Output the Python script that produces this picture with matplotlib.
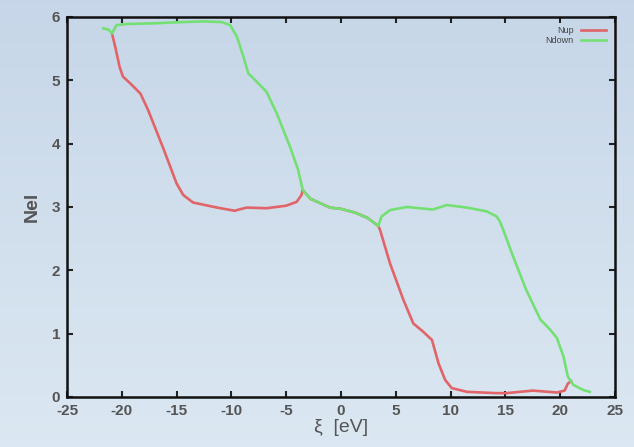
import numpy as np
import matplotlib
matplotlib.use('Agg')
import matplotlib.pyplot as plt

plt.rcParams['font.family'] = ['Liberation Sans', 'DejaVu Sans']
plt.rcParams['axes.unicode_minus'] = False

# Nup (red) path
nup_x = [-20.9, -20.6, -20.2, -19.9, -19.1, -18.3, -17.6, -16.5, -16.2, -15.0, -14.4, -13.5,
         -11.3, -9.7, -9.3, -8.6, -6.8, -5.0, -4.05, -3.6, -3.5,
         -2.8, -1.0, 0.0, 1.3, 2.4, 3.4,
         3.56, 4.47, 5.7, 6.6, 7.5, 8.3, 8.9, 9.5, 10.1, 11.5, 14.2, 15.1, 17.5,
         19.7, 20.4, 20.7, 21.0]
nup_y = [5.74, 5.53, 5.21, 5.06, 4.93, 4.79, 4.53, 4.05, 3.92, 3.37, 3.19, 3.07,
         2.99, 2.94, 2.96, 2.99, 2.98, 3.02, 3.08, 3.19, 3.27,
         3.13, 2.99, 2.97, 2.91, 2.83, 2.70,
         2.64, 2.11, 1.53, 1.16, 1.03, 0.90, 0.53, 0.27, 0.14, 0.08, 0.06, 0.06, 0.10,
         0.07, 0.10, 0.21, 0.25]

# Ndown (green) path
ndown_x = [-21.7, -21.2, -20.9, -20.5, -19.5, -17.0, -14.5, -12.5, -10.9, -10.1, -9.5,
           -8.9, -8.46, -7.7, -6.8, -5.87, -4.65, -3.9, -3.5,
           -2.8, -1.0, 0.0, 1.3, 2.4, 3.4,
           3.7, 4.47, 6.0, 8.4, 9.65, 11.5, 13.3, 14.2, 14.5, 14.8, 15.7, 16.9, 18.2,
           19.1, 19.7, 20.3, 20.7, 21.2, 22.1, 22.7]
ndown_y = [5.82, 5.80, 5.74, 5.87, 5.89, 5.90, 5.92, 5.93, 5.92, 5.87, 5.69,
           5.37, 5.11, 4.98, 4.82, 4.48, 3.95, 3.58, 3.27,
           3.13, 2.99, 2.97, 2.91, 2.83, 2.70,
           2.85, 2.95, 3.00, 2.96, 3.03, 2.99, 2.93, 2.85, 2.77, 2.64, 2.22, 1.69, 1.22,
           1.06, 0.93, 0.64, 0.32, 0.19, 0.11, 0.08]

xticks = [-25, -20, -15, -10, -5, 0, 5, 10, 15, 20, 25]
yticks = [0, 1, 2, 3, 4, 5, 6]

fig = plt.figure(figsize=(6.34, 4.47), dpi=100)

# soft blue gradient background
bg = fig.add_axes([0, 0, 1, 1], zorder=0)
top = np.array([0.78, 0.84, 0.91])
bot = np.array([0.86, 0.91, 0.95])
t = np.linspace(0, 1, 200)[:, None]
grad = top + (bot - top) * t
bg.imshow(grad[:, None, :].repeat(2, axis=1), aspect='auto', extent=[0, 1, 0, 1])
bg.axis('off')

ax = fig.add_axes([0.1057, 0.112, 0.8643, 0.850], zorder=1)
ax.set_facecolor('none')
ax.plot(nup_x, nup_y, color='#e06468', lw=1.9, label='Nup', solid_joinstyle='round')
ax.plot(ndown_x, ndown_y, color='#74e074', lw=1.9, label='Ndown', solid_joinstyle='round')

ax.set_xlim(-25, 25)
ax.set_ylim(0, 6)
ax.set_xticks(xticks)
ax.set_yticks(yticks)
ax.tick_params(direction='in', top=True, right=True, length=4, width=1.5,
               labelsize=11, colors='#222222', labelcolor='#555555')
ax.tick_params(axis='x', pad=5)
ax.tick_params(axis='y', pad=5)
for lbl in ax.get_xticklabels() + ax.get_yticklabels():
    lbl.set_fontweight('bold')
for s in ax.spines.values():
    s.set_linewidth(1.8)
    s.set_color('#111111')

ax.set_xlabel('ξ  [eV]', fontsize=14, color='#555555', labelpad=1)
ax.set_ylabel('Nel', fontsize=14, fontweight='bold', color='#555555', labelpad=8)

ax.legend(loc='upper right', frameon=False, markerfirst=False, fontsize=6.5,
          handlelength=2.8, labelspacing=0.1, borderaxespad=0.6,
          labelcolor='#444444')

fig.savefig('out.png', dpi=100)
